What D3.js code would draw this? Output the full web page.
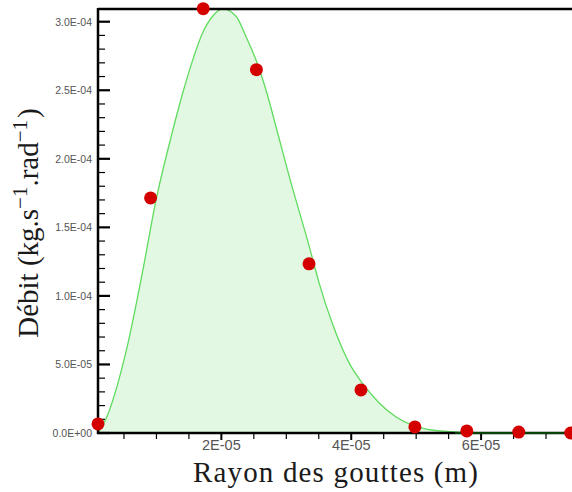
<!DOCTYPE html>
<html>
<head>
<meta charset="utf-8">
<script src="https://cdn.jsdelivr.net/npm/d3@7"></script>
<style>
  html, body { margin: 0; padding: 0; background: #fff; }
  svg { display: block; }
</style>
</head>
<body>
<svg id="chart" width="572" height="492"></svg>
<script>
// Measured droplets (bin radius, flow)
const pointRadius = [1.0e-6, 9.1e-6, 17.2e-6, 25.4e-6, 33.5e-6, 41.5e-6, 49.8e-6, 57.8e-6, 65.8e-6, 73.8e-6];
const pointFlow   = [6.6e-6, 1.715e-4, 3.095e-4, 2.65e-4, 1.234e-4, 3.14e-5, 4.4e-6, 1.5e-6, 0.7e-6, 0.0];

// Fitted distribution curve
const curveRadius = [1.0e-6, 2.15e-6, 5.38e-6, 8.0e-6, 9.85e-6, 12.26e-6, 14.05e-6, 15.58e-6, 17.12e-6,
                     18.66e-6, 20.2e-6, 22.26e-6, 23.8e-6, 25.34e-6, 26.88e-6, 28.66e-6, 30.46e-6,
                     33.54e-6, 35.08e-6, 37.08e-6, 39.69e-6, 41.69e-6, 44.31e-6, 46.92e-6, 49.38e-6,
                     52.46e-6, 56.6e-6, 62.8e-6, 74e-6];
const curveFlow   = [0.0, 9.5e-6, 6.06e-5, 1.21e-4, 1.679e-4, 2.16e-4, 2.48e-4, 2.72e-4, 2.92e-4,
                     3.04e-4, 3.093e-4, 3.04e-4, 2.89e-4, 2.72e-4, 2.50e-4, 2.19e-4, 1.87e-4,
                     1.36e-4, 1.09e-4, 8.0e-5, 5.1e-5, 3.65e-5, 2.19e-5, 1.17e-5, 5.8e-6,
                     2.2e-6, 0.7e-6, 0.2e-6, 0.0];

const yTicks = [0, 5e-5, 1e-4, 1.5e-4, 2e-4, 2.5e-4, 3e-4];
const yTickLabels = ['0.0E+00', '5.0E-05', '1.0E-04', '1.5E-04', '2.0E-04', '2.5E-04', '3.0E-04'];
const xTicks = [2e-5, 4e-5, 6e-5];
const xTickLabels = ['2E-05', '4E-05', '6E-05'];

const M = { left: 98, top: 8, right: 572, bottom: 433 };

const svg = d3.select('#chart');

const x = d3.scaleLinear().domain([1e-6, 74e-6]).range([M.left, M.right]);
const y = d3.scaleLinear().domain([0, 3.1e-4]).range([M.bottom, M.top]);

const curveData = curveRadius.map((r, i) => ({ r: r, v: curveFlow[i] }));
const pointData = pointRadius.map((r, i) => ({ r: r, v: pointFlow[i] }));

// filled area under the curve
svg.append('path')
    .datum(curveData)
    .attr('fill', '#e2f8e2')
    .attr('d', d3.area().x(d => x(d.r)).y0(y(0)).y1(d => y(d.v)).curve(d3.curveMonotoneX));

svg.append('path')
    .datum(curveData)
    .attr('fill', 'none')
    .attr('stroke', '#5fdc5f')
    .attr('stroke-width', 1.3)
    .attr('d', d3.line().x(d => x(d.r)).y(d => y(d.v)).curve(d3.curveMonotoneX));

// top frame
svg.append('line')
    .attr('x1', M.left).attr('x2', M.right)
    .attr('y1', M.top + 1).attr('y2', M.top + 1)
    .attr('stroke', '#000').attr('stroke-width', 2.5);

// y axis: ticks inside
const yAxis = svg.append('g').attr('transform', `translate(${M.left},0)`);
const yMinor = d3.range(0, 3.05e-4, 1e-5).filter(v => yTicks.every(t => Math.abs(t - v) > 1e-9));
yAxis.selectAll('.ymin').data(yMinor).enter().append('line')
    .attr('x1', 0).attr('x2', 7)
    .attr('y1', d => y(d)).attr('y2', d => y(d))
    .attr('stroke', '#000').attr('stroke-width', 1.2);
yAxis.selectAll('.ymaj').data(yTicks).enter().append('line')
    .attr('x1', 0).attr('x2', 12)
    .attr('y1', d => y(d)).attr('y2', d => y(d))
    .attr('stroke', '#000').attr('stroke-width', 2.2);
yAxis.selectAll('.ylab').data(yTicks).enter().append('text')
    .style('font-family', "'Liberation Sans'")
    .style('font-size', '10.5px')
    .attr('x', -6).attr('y', d => y(d) + 3.8)
    .attr('text-anchor', 'end')
    .attr('fill', '#555')
    .text((d, i) => yTickLabels[i]);
yAxis.append('line')
    .attr('x1', 0).attr('x2', 0)
    .attr('y1', M.top).attr('y2', M.bottom + 1)
    .attr('stroke', '#000').attr('stroke-width', 2.5);

// x axis: ticks outside
const xAxis = svg.append('g');
const xMinor = d3.range(5e-6, 74e-6, 5e-6).filter(v => xTicks.every(t => Math.abs(t - v) > 1e-9));
xAxis.selectAll('.xmin').data(xMinor).enter().append('line')
    .attr('x1', d => x(d)).attr('x2', d => x(d))
    .attr('y1', M.bottom).attr('y2', M.bottom + 6)
    .attr('stroke', '#000').attr('stroke-width', 1.2);
xAxis.selectAll('.xmaj').data(xTicks).enter().append('line')
    .attr('x1', d => x(d)).attr('x2', d => x(d))
    .attr('y1', M.bottom).attr('y2', M.bottom + 7)
    .attr('stroke', '#000').attr('stroke-width', 2);
xAxis.selectAll('.xlab').data(xTicks).enter().append('text')
    .style('font-family', "'Liberation Sans'")
    .style('font-size', '14.5px')
    .attr('x', d => x(d)).attr('y', M.bottom + 17)
    .attr('text-anchor', 'middle')
    .attr('fill', '#555')
    .text((d, i) => xTickLabels[i]);
xAxis.append('line')
    .attr('x1', M.left - 1).attr('x2', M.right)
    .attr('y1', M.bottom).attr('y2', M.bottom)
    .attr('stroke', '#000').attr('stroke-width', 2.5);

// flat tail of the curve drawn over the axis
svg.append('line')
    .attr('x1', x(56e-6)).attr('x2', M.right)
    .attr('y1', M.bottom).attr('y2', M.bottom)
    .attr('stroke', '#0a5a0a').attr('stroke-width', 1.5);

// measured points
svg.selectAll('.pt').data(pointData).enter().append('circle')
    .attr('cx', d => x(d.r)).attr('cy', d => y(d.v))
    .attr('r', 6.5)
    .attr('fill', '#d40000');

// axis titles
svg.append('text')
    .style('font-family', "'Liberation Serif'")
    .style('font-size', '29px')
    .attr('x', 335.5).attr('y', 482)
    .attr('text-anchor', 'middle')
    .attr('textLength', 285)
    .attr('lengthAdjust', 'spacing')
    .attr('fill', '#1a1a1a')
    .text('Rayon des gouttes (m)');

const yt = svg.append('text')
    .style('font-family', "'Liberation Serif'")
    .style('font-size', '29px')
    .attr('transform', 'translate(38,223) rotate(-90)')
    .attr('text-anchor', 'middle')
    .attr('fill', '#1a1a1a');
yt.append('tspan').text('Débit (kg.s');
yt.append('tspan').attr('dy', -11).style('font-size', '21px').text('−1');
yt.append('tspan').attr('dy', 11).text('.rad');
yt.append('tspan').attr('dy', -11).style('font-size', '21px').text('−1');
yt.append('tspan').attr('dy', 11).attr('dx', 2).text(')');
</script>
</body>
</html>
